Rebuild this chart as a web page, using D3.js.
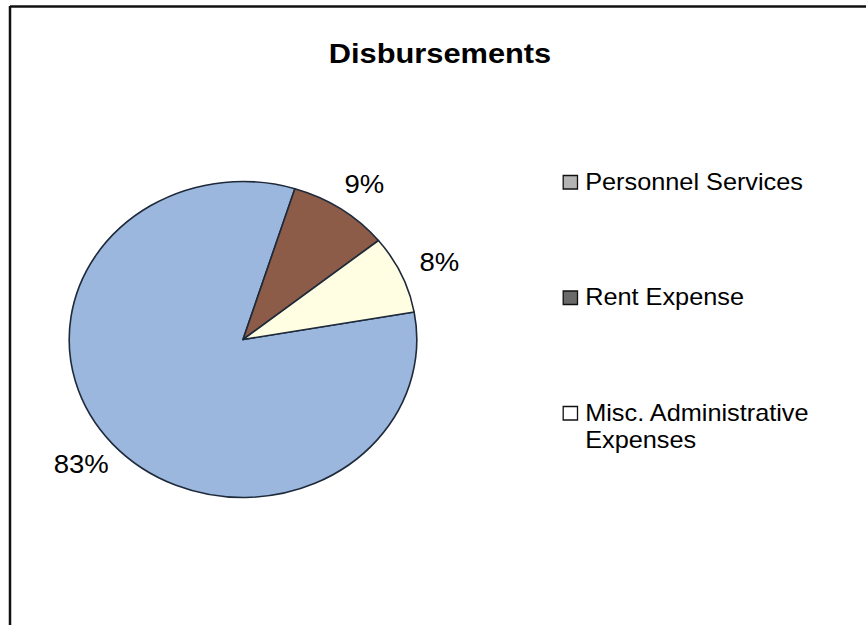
<!DOCTYPE html>
<html>
<head>
<meta charset="utf-8">
<script src="https://cdn.jsdelivr.net/npm/d3@7/dist/d3.min.js"></script>
<style>
  html, body { margin: 0; padding: 0; background: #ffffff; }
  svg { display: block; }
  text { font-family: "Liberation Sans", Arial, Helvetica, sans-serif; fill: #000; }
</style>
</head>
<body>
<svg id="chart" width="866" height="625"></svg>
<script>
// ---- data ----
const title = "Disbursements";
const categories = ["Personnel Services", "Rent Expense", "Misc. Administrative Expenses"];
const values = [82.6, 9.4, 8.0];
const sliceColors = ["#9bb7de", "#8c5c48", "#fffde2"];
const legendSwatches = ["#b4b4b4", "#6a6a6a", "#ffffff"];

// ---- layout ----
const W = 866, H = 625;
const SX = 1.1; // horizontal stretch of the original picture
const svg = d3.select("#chart");

// frame lines (top and left)
svg.append("line").attr("x1", 10).attr("y1", 6.5).attr("x2", W).attr("y2", 6.5)
  .attr("stroke", "#111").attr("stroke-width", 2.5);
svg.append("line").attr("x1", 10).attr("y1", 6).attr("x2", 10).attr("y2", H)
  .attr("stroke", "#111").attr("stroke-width", 2.5);

const g = svg.append("g").attr("transform", `scale(${SX},1)`);

// title
g.append("text")
  .attr("x", 440 / SX).attr("y", 63)
  .attr("text-anchor", "middle")
  .attr("font-size", 28).attr("font-weight", "bold")
  .text(title);

// pie
const cx = 243 / SX, cy = 339.5, r = 158;
const deg = Math.PI / 180;
const pie = d3.pie().sort(null).startAngle(80 * deg).endAngle(440 * deg);
const arcs = pie(values);
const arc = d3.arc().innerRadius(0).outerRadius(r);
const totalScale = d3.scaleLinear().domain([0, d3.sum(values)]).range([0, 100]);

const pg = g.append("g").attr("transform", `translate(${cx},${cy})`);
pg.selectAll("path.slice").data(arcs).join("path")
  .attr("class", "slice")
  .attr("d", arc)
  .attr("fill", (d, i) => sliceColors[i])
  .attr("stroke", "#1e2a3a")
  .attr("stroke-width", 1.6)
  .attr("stroke-linejoin", "round")
  .attr("vector-effect", "non-scaling-stroke");

const kx = 1.24, ky = 1.19;
pg.selectAll("text.lbl").data(arcs).join("text")
  .attr("class", "lbl")
  .attr("x", d => Math.sin((d.startAngle + d.endAngle) / 2) * r * kx)
  .attr("y", d => -Math.cos((d.startAngle + d.endAngle) / 2) * r * ky + 9)
  .attr("text-anchor", "middle")
  .attr("font-size", 25)
  .text(d => Math.round(totalScale(d.value)) + "%");

// legend
const legendX = 512, textX = 532, maxW = 240, lineH = 27;
const legendY = d3.scalePoint().domain(categories).range([190, 421]);
const lg = g.append("g");
categories.forEach((c, i) => {
  const y = legendY(c);
  lg.append("rect")
    .attr("x", legendX).attr("y", y - 14.5)
    .attr("width", 13).attr("height", 13.5)
    .attr("fill", legendSwatches[i])
    .attr("stroke", "#111").attr("stroke-width", 1.3)
    .attr("vector-effect", "non-scaling-stroke");
  const t = lg.append("text").attr("x", textX).attr("y", y).attr("font-size", 23);
  // word wrap
  const words = c.split(" ");
  let line = [], lineNo = 0;
  let ts = t.append("tspan").attr("x", textX).attr("y", y);
  words.forEach(w => {
    line.push(w);
    ts.text(line.join(" "));
    if (ts.node().getComputedTextLength() > maxW && line.length > 1) {
      line.pop();
      ts.text(line.join(" "));
      line = [w];
      lineNo++;
      ts = t.append("tspan").attr("x", textX).attr("y", y + lineNo * lineH).text(w);
    }
  });
});
</script>
</body>
</html>
